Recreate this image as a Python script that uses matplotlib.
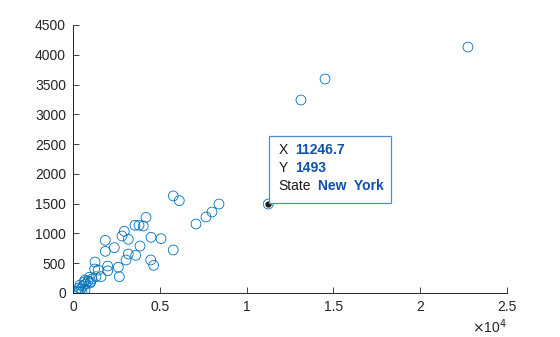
import matplotlib
matplotlib.use("Agg")
import matplotlib.pyplot as plt
from matplotlib.patches import Rectangle
from matplotlib.transforms import Affine2D

plt.rcParams['font.family'] = ['Liberation Sans', 'DejaVu Sans']

# Data (x: e.g. population-like measure, y: count)
x_vals = [22750, 14520, 13130, 11246.7, 8410, 8006, 7661, 7085, 5777, 6123,
          5777, 5069, 4493, 4476, 4648, 4205, 4049, 3802, 3571, 3859,
          3611, 3185, 2955, 2822, 3185, 3053, 2379, 2609, 2667, 1860,
          1860, 1999, 1999, 1267, 1457, 1250, 1613, 1325, 939, 1020,
          691, 288, 346, 403, 461, 518, 576, 634, 691, 749,
          864, 979, 1094, 346]
y_vals = [4130, 3593, 3240, 1493, 1494, 1360, 1276, 1159, 1629, 1550,
          722, 912, 935, 554, 465, 1271, 1125, 1137, 1137, 789,
          633, 902, 1036, 957, 655, 554, 761, 432, 274, 885,
          700, 453, 374, 520, 386, 403, 274, 274, 264, 190,
          218, 34, 84, 134, 67, 20, 118, 185, 50, 151,
          201, 168, 235, 15]

x_ticks = [0, 5000, 10000, 15000, 20000, 25000]
x_ticklabels = ['0', '0.5', '1', '1.5', '2', '2.5']
y_ticks = [0, 500, 1000, 1500, 2000, 2500, 3000, 3500, 4000, 4500]

tip_x = 11246.7
tip_y = 1493
tip_state = 'New York'

blue = '#0072BD'
axcol = '#262626'

fig = plt.figure(figsize=(5.6, 3.37), dpi=100)
ax = fig.add_axes([73/560, 44/337, 434/560, 268/337])

ax.scatter(x_vals, y_vals, s=50, facecolors='none', edgecolors=blue, linewidths=0.6, zorder=2)

ax.set_xlim(0, 25000)
ax.set_ylim(0, 4500)
ax.set_xticks(x_ticks)
ax.set_xticklabels(x_ticklabels)
ax.set_yticks(y_ticks)
ax.tick_params(direction='in', length=4, width=0.6, colors=axcol, labelsize=10, pad=5)
for side in ['top', 'right']:
    ax.spines[side].set_visible(False)
for side in ['left', 'bottom']:
    ax.spines[side].set_color(axcol)
    ax.spines[side].set_linewidth(0.7)

ax.text(1.0, -0.09, r'$\times$10$^4$', transform=ax.transAxes, ha='right', va='top',
        fontsize=10, color=axcol)

# Datatip
ax.plot([tip_x], [tip_y], 'o', color='#1a1a1a', markersize=3.5, zorder=4)
fig.canvas.draw()
px, py = ax.transData.transform((tip_x, tip_y))
tr = Affine2D().translate(px, py)
rect = Rectangle((1, 1), 122, 67, transform=tr, facecolor='white',
                 edgecolor='#4a90d9', linewidth=0.9, zorder=5, clip_on=False)
fig.add_artist(rect)
lab_kw = dict(transform=tr, fontsize=10, va='center', ha='left', zorder=6, color='#1a1a1a')
val_kw = dict(transform=tr, fontsize=10, va='center', ha='left', zorder=6,
              color='#0f50a8', fontweight='bold')
fig.text(10, 54, 'X', **lab_kw)
fig.text(27, 54, f'{tip_x:g}', **val_kw)
fig.text(10, 36, 'Y', **lab_kw)
fig.text(27, 36, f'{tip_y:g}', **val_kw)
fig.text(10, 18, 'State', **lab_kw)
fig.text(50, 18, tip_state.replace(' ', '  '), **val_kw)

fig.savefig('out.png', dpi=100)
